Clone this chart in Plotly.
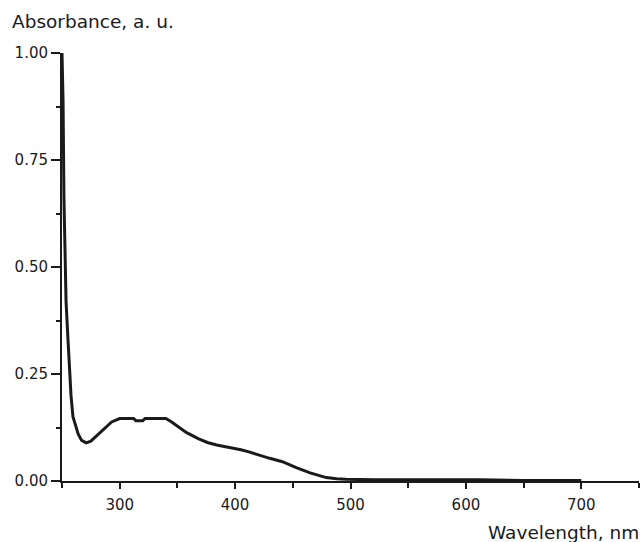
import plotly.graph_objects as go

wavelength = [250, 250.9, 251.7, 252.6, 253.5, 255.2, 256.3, 257.8, 259.5, 262, 264, 267, 271, 275, 279,
              287, 293, 300, 305, 312, 314, 320, 322, 330, 340, 345, 350, 358, 368, 376, 384, 392, 398,
              405, 412, 420, 430, 441, 453, 465, 472, 479, 488, 496, 520, 560, 600, 612, 650, 700]
absorbance = [1.00, 0.89, 0.66, 0.54, 0.42, 0.33, 0.27, 0.20, 0.15, 0.125, 0.11, 0.095, 0.089, 0.093, 0.103,
              0.124, 0.138, 0.146, 0.146, 0.146, 0.141, 0.141, 0.146, 0.146, 0.146, 0.138, 0.128, 0.113, 0.099,
              0.090, 0.084, 0.080, 0.077, 0.073, 0.068, 0.061, 0.053, 0.045, 0.031, 0.019, 0.013, 0.008, 0.005,
              0.004, 0.003, 0.003, 0.003, 0.003, 0.001, 0.001]

x_title = "Wavelength, nm"
y_title = "Absorbance, a. u."

FONT = "DejaVu Sans, sans-serif"

fig = go.Figure()
fig.add_trace(go.Scatter(x=wavelength, y=absorbance, mode="lines",
                         line=dict(color="#1a1a1a", width=3), hoverinfo="skip"))

fig.update_layout(
    width=644, height=542,
    margin=dict(l=62, r=5, t=53, b=61),
    paper_bgcolor="white", plot_bgcolor="white",
    showlegend=False,
    font=dict(family=FONT, color="#1a1a1a"),
    xaxis=dict(range=[250, 750], showgrid=False, zeroline=False,
               showline=True, linecolor="#1a1a1a", linewidth=2,
               ticks="outside", ticklen=6, tickwidth=2, tickcolor="#1a1a1a",
               tick0=300, dtick=100, ticklabelstandoff=3,
               tickfont=dict(size=15, family=FONT, color="#1a1a1a"),
               minor=dict(ticks="outside", ticklen=5, tickwidth=2, tickcolor="#1a1a1a",
                          tick0=250, dtick=50, showgrid=False)),
    yaxis=dict(range=[0, 1], showgrid=False, zeroline=False,
               showline=True, linecolor="#1a1a1a", linewidth=2,
               ticks="outside", ticklen=9, tickwidth=2, tickcolor="#1a1a1a",
               tick0=0, dtick=0.25, tickformat=".2f",
               tickfont=dict(size=15, family=FONT, color="#1a1a1a"),
               minor=dict(ticks="outside", ticklen=4, tickwidth=2, tickcolor="#1a1a1a",
                          tick0=0, dtick=0.125, showgrid=False)),
    annotations=[
        dict(text=y_title, xref="paper", yref="paper", x=0, y=1, xshift=-52, yshift=19,
             xanchor="left", yanchor="bottom", showarrow=False,
             font=dict(size=18.5, family=FONT, color="#1a1a1a")),
        dict(text=x_title, xref="paper", yref="paper", x=1, y=0, xshift=2, yshift=-39,
             xanchor="right", yanchor="top", showarrow=False,
             font=dict(size=18.5, family=FONT, color="#1a1a1a")),
    ],
)

fig.write_html("out.html", config={"displayModeBar": False},
               post_script="document.body.style.margin='0';document.body.style.overflow='hidden';")
